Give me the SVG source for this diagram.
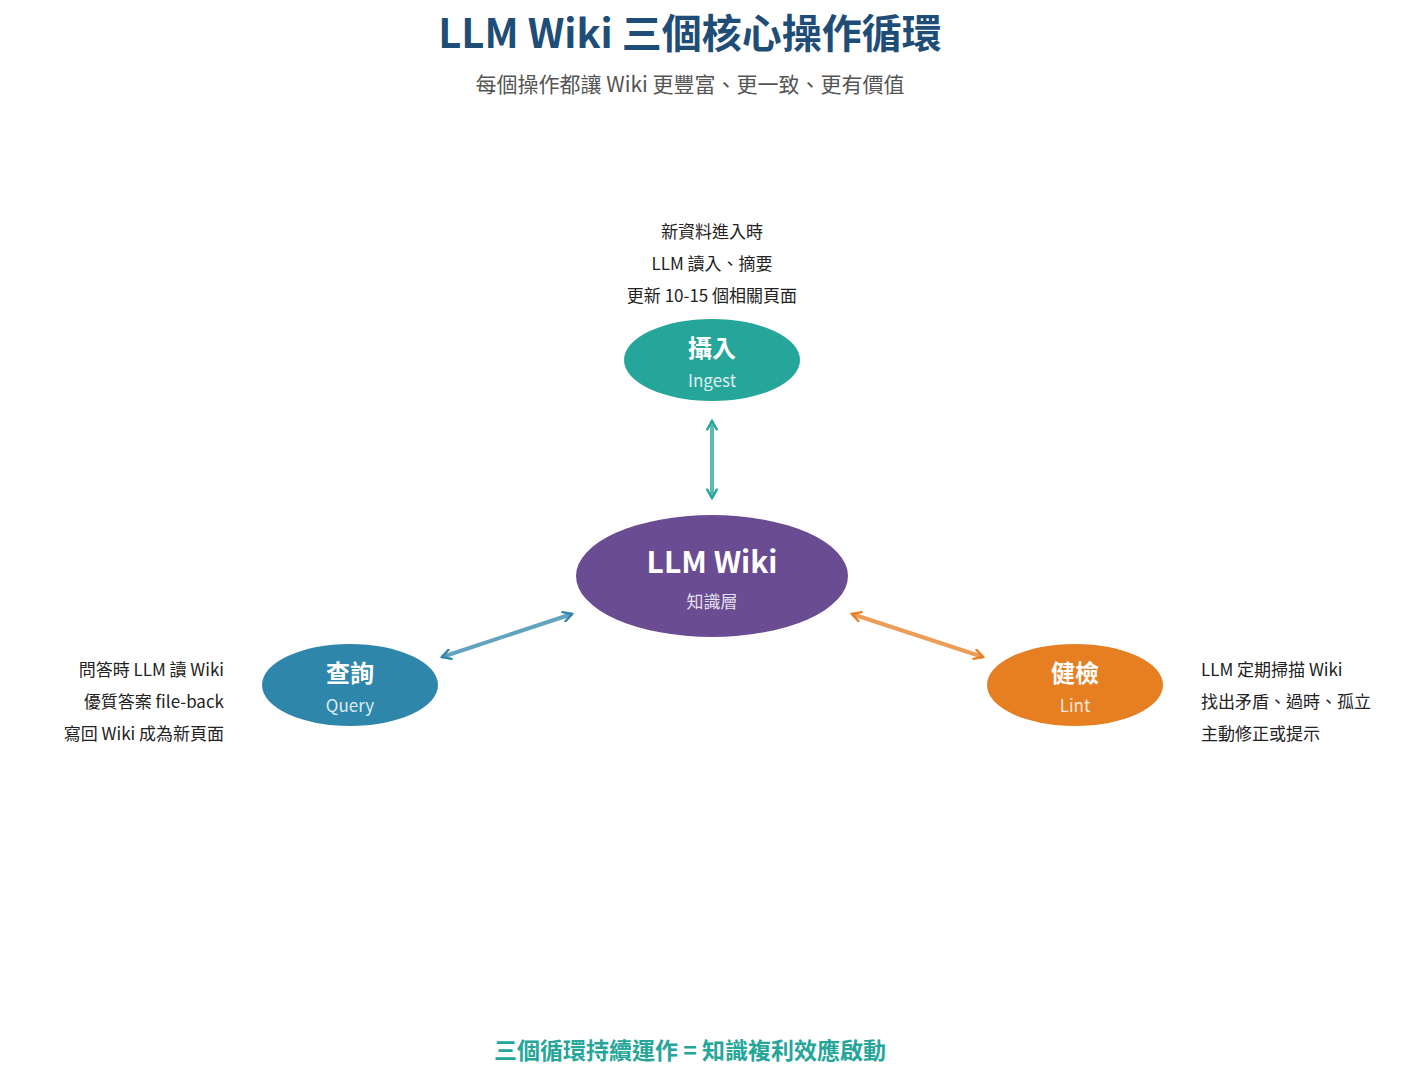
<svg xmlns="http://www.w3.org/2000/svg" width="1425" height="1080" viewBox="0 0 1425 1080">
<style>
text{font-family:"Noto Sans CJK TC","Noto Sans",sans-serif}
.t{font-size:17px;fill:#222}
.nt{font-size:24px;font-weight:bold;fill:#fff;text-anchor:middle}
.ns{font-size:17px;fill:#fff;fill-opacity:.85;text-anchor:middle}
.c{stroke-width:4;fill:none;stroke-opacity:.75}
</style>
<defs>
<marker id="mg" viewBox="0 0 10 10" refX="8" refY="5" markerWidth="3" markerHeight="3" orient="auto-start-reverse"><path d="M1,1 L8,5 L1,9" fill="none" stroke="#26a69a" stroke-width="2" stroke-linecap="round"/></marker>
<marker id="mb" viewBox="0 0 10 10" refX="8" refY="5" markerWidth="3" markerHeight="3" orient="auto-start-reverse"><path d="M1,1 L8,5 L1,9" fill="none" stroke="#2e86ab" stroke-width="2" stroke-linecap="round"/></marker>
<marker id="mo" viewBox="0 0 10 10" refX="8" refY="5" markerWidth="3" markerHeight="3" orient="auto-start-reverse"><path d="M1,1 L8,5 L1,9" fill="none" stroke="#e67e22" stroke-width="2" stroke-linecap="round"/></marker>
</defs>
<rect width="1425" height="1080" fill="#fff"/>
<text x="690" y="48" text-anchor="middle" font-size="40" font-weight="bold" fill="#1e4d78">LLM Wiki 三個核心操作循環</text>
<text x="690" y="92" text-anchor="middle" font-size="21" fill="#555">每個操作都讓 Wiki 更豐富、更一致、更有價值</text>
<g id="connectors">
<line class="c" x1="712" y1="421" x2="712" y2="498" stroke="#26a69a" marker-start="url(#mg)" marker-end="url(#mg)"/>
<line class="c" x1="442" y1="657" x2="572" y2="614" stroke="#2e86ab" marker-start="url(#mb)" marker-end="url(#mb)"/>
<line class="c" x1="852" y1="614" x2="983" y2="657" stroke="#e67e22" marker-start="url(#mo)" marker-end="url(#mo)"/>
</g>
<g id="ingest">
<ellipse cx="712" cy="360" rx="88" ry="41" fill="#26a69a"/>
<text class="nt" x="712" y="357">攝入</text>
<text class="ns" x="712" y="387">Ingest</text>
<text class="t" text-anchor="middle" x="712" y="238">新資料進入時</text>
<text class="t" text-anchor="middle" x="712" y="270">LLM 讀入、摘要</text>
<text class="t" text-anchor="middle" x="712" y="302">更新 10-15 個相關頁面</text>
</g>
<g id="wiki">
<ellipse cx="712" cy="576" rx="136" ry="61" fill="#6a4c93"/>
<text x="712" y="573" text-anchor="middle" font-size="30" font-weight="bold" fill="#fff">LLM Wiki</text>
<text class="ns" x="712" y="608" font-size="19">知識層</text>
</g>
<g id="query">
<ellipse cx="350" cy="685" rx="88" ry="41" fill="#2e86ab"/>
<text class="nt" x="350" y="682">查詢</text>
<text class="ns" x="350" y="712">Query</text>
<text class="t" text-anchor="end" x="224" y="676">問答時 LLM 讀 Wiki</text>
<text class="t" text-anchor="end" x="224" y="708">優質答案 file-back</text>
<text class="t" text-anchor="end" x="224" y="740">寫回 Wiki 成為新頁面</text>
</g>
<g id="lint">
<ellipse cx="1075" cy="685" rx="88" ry="41" fill="#e67e22"/>
<text class="nt" x="1075" y="682">健檢</text>
<text class="ns" x="1075" y="712">Lint</text>
<text class="t" x="1201" y="676">LLM 定期掃描 Wiki</text>
<text class="t" x="1201" y="708">找出矛盾、過時、孤立</text>
<text class="t" x="1201" y="740">主動修正或提示</text>
</g>
<text x="690" y="1059" text-anchor="middle" font-size="23" font-weight="bold" fill="#26a69a">三個循環持續運作 = 知識複利效應啟動</text>
</svg>
